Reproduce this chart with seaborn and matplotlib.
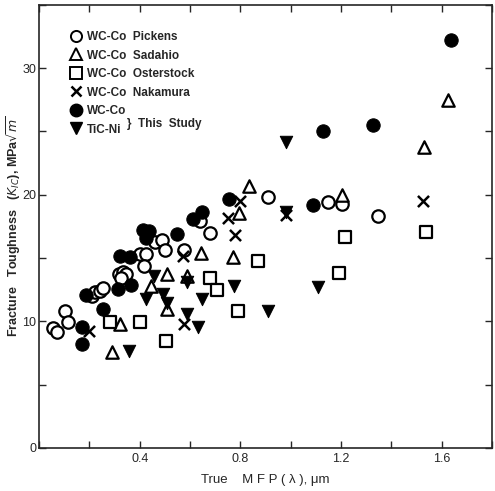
import numpy as np
import pandas as pd
import seaborn as sns
import matplotlib.pyplot as plt
from matplotlib.ticker import MultipleLocator
from matplotlib.lines import Line2D

# Fracture toughness vs. true mean free path, WC-Co and TiC-Ni cermets
pickens_x = [0.056, 0.071, 0.103, 0.115, 0.21, 0.222, 0.242, 0.254, 0.317, 0.333, 0.345, 0.325,
             0.40, 0.425, 0.417, 0.46, 0.49, 0.50, 0.575, 0.64, 0.68, 0.91, 1.147, 1.202, 1.345]
pickens_y = [9.44, 9.13, 10.79, 9.92, 11.98, 12.3, 12.38, 12.6, 13.73, 13.9, 13.7, 13.4,
             15.3, 15.3, 14.4, 16.3, 16.4, 15.6, 15.6, 17.9, 17.0, 19.8, 19.4, 19.3, 18.3]

sadahio_x = [0.29, 0.321, 0.444, 0.508, 0.508, 0.587, 0.643, 0.77, 0.794, 0.833, 1.202, 1.528, 1.627]
sadahio_y = [7.54, 9.76, 12.78, 13.73, 10.95, 13.57, 15.4, 15.08, 18.57, 20.7, 20.0, 23.8, 27.5]

osterstock_x = [0.282, 0.40, 0.504, 0.679, 0.706, 0.79, 0.869, 1.214, 1.19, 1.536]
osterstock_y = [9.92, 9.92, 8.41, 13.4, 12.46, 10.8, 14.76, 16.67, 13.8, 17.06]

nakamura_x = [0.198, 0.571, 0.575, 0.75, 0.798, 0.778, 0.98, 1.524]
nakamura_y = [9.2, 15.16, 9.76, 18.17, 19.5, 16.8, 18.4, 19.5]

wcco_x = [0.171, 0.171, 0.187, 0.254, 0.313, 0.365, 0.321, 0.361, 0.413, 0.437, 0.425, 0.548,
          0.611, 0.647, 0.754, 1.09, 1.127, 1.325, 1.635]
wcco_y = [9.52, 8.17, 12.06, 10.95, 12.54, 12.86, 15.16, 15.08, 17.2, 17.1, 16.6, 16.9,
          18.1, 18.65, 19.7, 19.2, 25.0, 25.5, 32.2]

ticni_x = [0.357, 0.456, 0.425, 0.492, 0.508, 0.587, 0.647, 0.587, 0.631, 0.774, 0.909, 1.107, 0.98, 0.98]
ticni_y = [7.62, 13.57, 11.75, 12.14, 11.43, 13.1, 11.75, 10.56, 9.52, 12.78, 10.79, 12.7, 24.2, 18.65]

x_ticks = [0.4, 0.8, 1.2, 1.6]
x_tick_labels = ["0.4", "0.8", "1.2", "1.6"]
y_ticks = [0, 10, 20, 30]

legend_labels = ["WC-Co  Pickens", "WC-Co  Sadahio", "WC-Co  Osterstock",
                 "WC-Co  Nakamura", "WC-Co", "TiC-Ni"]

sns.set_style("ticks")
plt.rcParams["font.family"] = ["Liberation Sans", "DejaVu Sans"]
plt.rcParams["mathtext.fontset"] = "dejavusans"

fig = plt.figure(figsize=(4.95, 4.91), dpi=100)
ax = fig.add_axes([0.079, 0.088, 0.915, 0.902])

ms = 80
open_kw = dict(facecolor="white", edgecolor="black", linewidth=1.6, s=ms, zorder=3)
series = [
    (pickens_x, pickens_y, "o", open_kw),
    (sadahio_x, sadahio_y, "^", open_kw),
    (osterstock_x, osterstock_y, "s", open_kw),
    (nakamura_x, nakamura_y, "x", dict(color="black", linewidth=1.8, s=ms * 0.8, zorder=4)),
    (wcco_x, wcco_y, "o", dict(color="black", edgecolor="black", s=ms * 1.15, zorder=3)),
    (ticni_x, ticni_y, "v", dict(color="black", edgecolor="black", s=ms, zorder=3)),
]
for xs, ys, mk, kw in series:
    sns.scatterplot(x=xs, y=ys, marker=mk, ax=ax, legend=False, **kw)

ax.set_xlim(0, 1.8)
ax.set_ylim(0, 35)
ax.set_xticks(x_ticks)
ax.set_xticklabels(x_tick_labels)
ax.set_yticks(y_ticks)
ax.xaxis.set_minor_locator(MultipleLocator(0.2))
ax.yaxis.set_minor_locator(MultipleLocator(5))
ax.tick_params(which="both", direction="in", top=True, right=True, length=5,
               width=1.0, labelsize=9, pad=4)
ax.tick_params(axis="y", pad=2)
for sp in ax.spines.values():
    sp.set_linewidth(1.2)

ax.set_xlabel("True    M F P ( λ ), μm", fontsize=9.5, labelpad=6)
ax.set_ylabel("Fracture   Toughness   ($K_{IC}$), MPa$\\sqrt{m}$", fontsize=9,
              fontweight="bold")
ax.yaxis.set_label_coords(-0.036, 0.5)

handles = [
    Line2D([], [], ls="none", marker="o", mfc="white", mec="black", mew=1.4, ms=8),
    Line2D([], [], ls="none", marker="^", mfc="white", mec="black", mew=1.4, ms=8),
    Line2D([], [], ls="none", marker="s", mfc="white", mec="black", mew=1.4, ms=8),
    Line2D([], [], ls="none", marker="x", color="black", mew=1.8, ms=7),
    Line2D([], [], ls="none", marker="o", color="black", ms=9),
    Line2D([], [], ls="none", marker="v", color="black", ms=8),
]
leg = ax.legend(handles, legend_labels, loc="upper left", bbox_to_anchor=(0.045, 0.965),
                frameon=False, handletextpad=0.4, labelspacing=0.55, handlelength=1.0,
                prop=dict(size=8.5, weight="bold"))
ax.text(0.195, 0.73, "}  This  Study", transform=ax.transAxes, fontsize=8.5,
        fontweight="bold", va="center", ha="left")

fig.savefig("out.png", dpi=100)
